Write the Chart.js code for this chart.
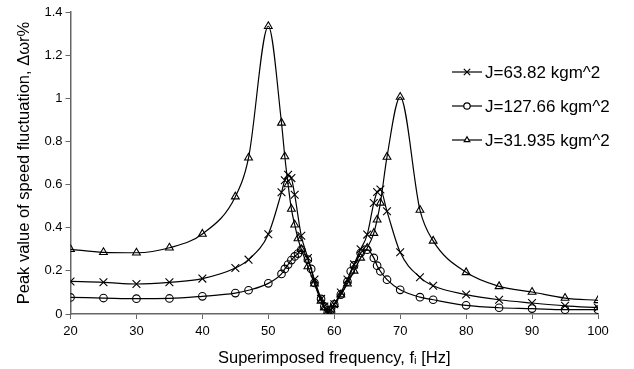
<!DOCTYPE html>
<html>
<head>
<meta charset="utf-8">
<script src="https://cdn.jsdelivr.net/npm/chart.js@4/dist/chart.umd.min.js"></script>
<style>
  html, body { margin: 0; padding: 0; background: #fff; }
  #wrap { width: 634px; height: 369px; }
</style>
</head>
<body>
<div id="wrap"><canvas id="speedChart"></canvas></div>
<script>
// J = 63.82 kgm^2 (crosses)
const freqCross = [20, 25, 30, 35, 40, 45, 47, 50, 52, 52.5, 53, 53.5, 54, 55, 56, 57, 58, 58.5, 59, 59.5, 60, 61, 62, 63, 64, 65, 66, 66.5, 67, 68, 70, 73, 75, 80, 85, 90, 95, 100];
const valsCross = [0.151, 0.147, 0.139, 0.147, 0.164, 0.213, 0.252, 0.370, 0.564, 0.620, 0.645, 0.630, 0.553, 0.363, 0.26, 0.16, 0.07, 0.035, 0.005, 0.02, 0.045, 0.10, 0.16, 0.23, 0.30, 0.368, 0.515, 0.566, 0.577, 0.476, 0.286, 0.170, 0.131, 0.090, 0.066, 0.051, 0.038, 0.029];

// J = 127.66 kgm^2 (circles)
const freqCircle = [20, 25, 30, 35, 40, 45, 47, 50, 52, 52.5, 53, 53.5, 54, 54.5, 55, 56, 56.5, 57, 58, 58.5, 59, 59.5, 60, 61, 62, 62.5, 63, 64, 65, 66, 66.5, 67, 68, 70, 73, 75, 80, 85, 90, 95, 100];
const valsCircle = [0.077, 0.074, 0.071, 0.072, 0.082, 0.097, 0.110, 0.142, 0.186, 0.209, 0.229, 0.250, 0.267, 0.280, 0.298, 0.252, 0.209, 0.144, 0.07, 0.035, 0.005, 0.02, 0.045, 0.09, 0.15, 0.198, 0.225, 0.283, 0.298, 0.260, 0.224, 0.198, 0.159, 0.112, 0.078, 0.066, 0.040, 0.029, 0.025, 0.020, 0.020];

// J = 31.935 kgm^2 (triangles)
const freqTri = [20, 25, 30, 35, 40, 45, 47, 50, 52, 52.5, 53, 53.5, 54, 54.5, 55, 56, 57, 58, 58.5, 59, 59.5, 60, 61, 62, 63, 64, 65, 66, 66.5, 67, 68, 70, 73, 75, 80, 85, 90, 95, 100];
const valsTri = [0.300, 0.286, 0.284, 0.307, 0.371, 0.544, 0.724, 1.334, 0.886, 0.730, 0.600, 0.487, 0.414, 0.350, 0.300, 0.22, 0.14, 0.06, 0.03, 0.005, 0.02, 0.045, 0.09, 0.14, 0.20, 0.26, 0.306, 0.375, 0.437, 0.515, 0.728, 1.006, 0.482, 0.339, 0.193, 0.128, 0.102, 0.074, 0.063];

const seriesNames = ['J=63.82 kgm^2', 'J=127.66 kgm^2', 'J=31.935 kgm^2'];
const xTicks = [20, 30, 40, 50, 60, 70, 80, 90, 100];
const yTicks = [0, 0.2, 0.4, 0.6, 0.8, 1, 1.2, 1.4];

function pts(xs, ys) {
  return xs.map((x, i) => ({ x: x, y: ys[i] }));
}

function series(label, xs, ys, style, r) {
  return {
    label: label,
    data: pts(xs, ys),
    borderColor: '#000',
    backgroundColor: '#fff',
    borderWidth: 1.2,
    pointStyle: style,
    pointRadius: r,
    pointBorderColor: '#000',
    pointBackgroundColor: 'rgba(255,255,255,0)',
    pointBorderWidth: 1.1,
    cubicInterpolationMode: 'monotone'
  };
}

// legend drawn inside the plot, top right
const insideLegend = {
  id: 'insideLegend',
  afterDraw(chart) {
    const c = chart.ctx;
    const area = chart.chartArea;
    const x0 = area.right - 146;
    const rows = [area.top + 60, area.top + 94, area.top + 128];
    c.save();
    c.font = '17px "Liberation Sans", Arial, sans-serif';
    c.textBaseline = 'middle';
    chart.data.datasets.forEach((ds, i) => {
      const y = rows[i];
      c.strokeStyle = '#000';
      c.lineWidth = 1.2;
      c.beginPath();
      c.moveTo(x0, y);
      c.lineTo(x0 + 30, y);
      c.stroke();
      c.fillStyle = '#fff';
      Chart.helpers.drawPoint(c, {
        pointStyle: ds.pointStyle, radius: ds.pointStyle === 'crossRot' ? 4.5 : 3.2, borderWidth: 1.1
      }, x0 + 15, y);
      c.fillStyle = '#000';
      c.fillText(ds.label, x0 + 33, y + 1);
    });
    c.restore();
  }
};

const tickFont = { family: '"Liberation Sans", Arial, sans-serif', size: 13 };
const titleFont = { family: '"Liberation Sans", Arial, sans-serif', size: 16.5 };

new Chart(document.getElementById('speedChart'), {
  type: 'line',
  data: {
    datasets: [
      series(seriesNames[0], freqCross, valsCross, 'crossRot', 5.5),
      series(seriesNames[1], freqCircle, valsCircle, 'circle', 3.8),
      series(seriesNames[2], freqTri, valsTri, 'triangle', 4.5)
    ]
  },
  options: {
    responsive: true,
    maintainAspectRatio: false,
    animation: false,
    layout: { padding: { left: 6, right: 36, top: 12, bottom: 0 } },
    plugins: {
      legend: { display: false },
      tooltip: { enabled: false }
    },
    scales: {
      x: {
        type: 'linear',
        min: 20,
        max: 100,
        afterBuildTicks: (axis) => { axis.ticks = xTicks.map(v => ({ value: v })); },
        afterFit: (axis) => { axis.height = 55; },
        ticks: { color: '#000', font: tickFont, padding: 5, maxRotation: 0 },
        grid: { drawOnChartArea: false, color: '#666', tickLength: 5 },
        border: { color: '#666', width: 1.5 },
        title: {
          display: true,
          text: 'Superimposed frequency, f\u1D62 [Hz]',
          color: '#000',
          font: titleFont,
          padding: { top: 0, bottom: 1 }
        }
      },
      y: {
        min: 0,
        max: 1.4,
        afterBuildTicks: (axis) => { axis.ticks = yTicks.map(v => ({ value: v })); },
        afterFit: (axis) => { axis.width = 64.5; },
        ticks: {
          color: '#000',
          font: tickFont,
          padding: 3,
          callback: (v) => String(+v.toFixed(1))
        },
        grid: { drawOnChartArea: false, color: '#666', tickLength: 5 },
        border: { color: '#666', width: 1.5 },
        title: {
          display: true,
          text: 'Peak value of speed fluctuation, \u0394\u03C9r%',
          color: '#000',
          font: titleFont,
          padding: { top: 9, bottom: 0 }
        }
      }
    }
  },
  plugins: [insideLegend]
});
</script>
</body>
</html>
